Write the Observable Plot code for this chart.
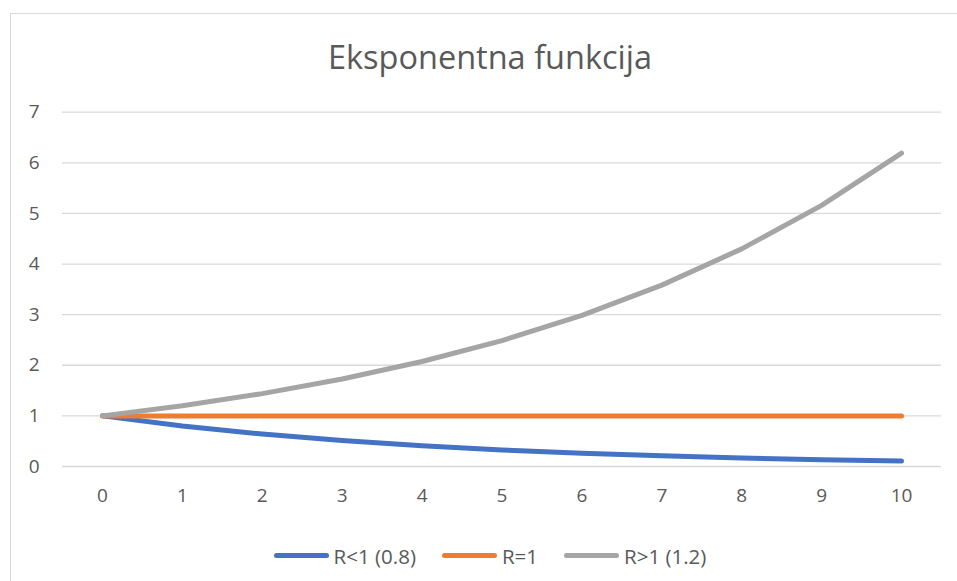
<!DOCTYPE html>
<html>
<head>
<meta charset="utf-8">
<script src="https://cdn.jsdelivr.net/npm/d3@7"></script>
<script src="https://cdn.jsdelivr.net/npm/@observablehq/plot@0.6"></script>
<style>
  html, body { margin: 0; padding: 0; background: #fff; overflow: hidden; width: 957px; height: 581px; }
  body { position: relative; font-family: "Open Sans", sans-serif; color: #595959; }
  #frame { position: absolute; left: 10px; top: 13px; width: 980px; height: 600px; border: 1px solid #d9d9d9; box-sizing: border-box; }
  #title { position: absolute; left: 0; width: 980px; top: 35px; text-align: center; font-size: 32.5px; line-height: 44px; color: #595959; white-space: nowrap; }
  #chart { position: absolute; left: 0; top: 90px; }
  #legend { position: absolute; left: 0; width: 980px; top: 537px; text-align: center; font-size: 20.5px; line-height: 26px; white-space: nowrap; color: #595959; }
  .item { display: inline-flex; align-items: center; margin: 0 13px; }
  .sw { display: inline-block; width: 55px; height: 5px; border-radius: 3px; margin-right: 5px; }
</style>
</head>
<body>
<div id="frame"></div>
<div id="title">Eksponentna funkcija</div>
<div id="chart"></div>
<div id="legend"></div>
<script>
const xs = [0, 1, 2, 3, 4, 5, 6, 7, 8, 9, 10];
const seriesNames = ["R<1 (0.8)", "R=1", "R>1 (1.2)"];
const seriesColors = ["#4472C4", "#ED7D31", "#A5A5A5"];
const valuesR08 = [1, 0.8, 0.64, 0.512, 0.41, 0.328, 0.262, 0.21, 0.168, 0.134, 0.107];
const valuesR1 = [1, 1, 1, 1, 1, 1, 1, 1, 1, 1, 1];
const valuesR12 = [1, 1.2, 1.44, 1.728, 2.074, 2.488, 2.986, 3.583, 4.3, 5.16, 6.19];
const yTicks = [0, 1, 2, 3, 4, 5, 6, 7];

const allSeries = [valuesR08, valuesR1, valuesR12];
const data = [];
allSeries.forEach((vals, si) => {
  vals.forEach((v, i) => data.push({ x: xs[i], y: v, s: seriesNames[si] }));
});

const W = 957, H = 440;
const plot = Plot.plot({
  width: W,
  height: H,
  marginTop: 21.7,
  marginBottom: 64,
  marginLeft: 62,
  marginRight: 16,
  style: { fontFamily: "Open Sans, sans-serif", color: "#595959", background: "transparent" },
  x: { type: "point", domain: xs, padding: 0.5, round: false, label: null },
  y: { domain: [0, 7], label: null },
  color: { domain: seriesNames, range: seriesColors },
  marks: [
    Plot.ruleY(yTicks, { stroke: "#d9d9d9", strokeWidth: 1.3 }),
    Plot.axisY(yTicks, { tickSize: 0, tickPadding: 23, fontSize: 19, fill: "#595959", label: null, tickFormat: d => String(d) }),
    Plot.axisX(xs, { tickSize: 0, tickPadding: 22, fontSize: 19, fill: "#595959", label: null, tickFormat: d => String(d) }),
    Plot.lineY(data, { x: "x", y: "y", z: "s", stroke: "s", strokeWidth: 5, strokeLinecap: "round", strokeLinejoin: "round" })
  ]
});
document.getElementById("chart").appendChild(plot);

const legend = document.getElementById("legend");
seriesNames.forEach((n, i) => {
  const item = document.createElement("span");
  item.className = "item";
  const sw = document.createElement("span");
  sw.className = "sw";
  sw.style.background = seriesColors[i];
  item.appendChild(sw);
  item.appendChild(document.createTextNode(n));
  legend.appendChild(item);
});
</script>
</body>
</html>
